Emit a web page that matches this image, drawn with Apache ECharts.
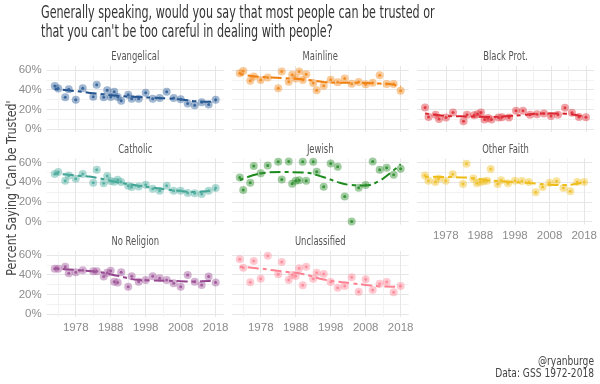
<!DOCTYPE html>
<html><head><meta charset="utf-8">
<script src="https://cdn.jsdelivr.net/npm/echarts@6/dist/echarts.min.js"></script>
<style>html,body{margin:0;padding:0;background:#fff}#c{width:600px;height:384px}</style>
</head><body><div id="c"></div>
<script>
const years = [1972,1973,1975,1976,1978,1980,1983,1984,1986,1987,1988,1989,1990,1991,1993,1994,1996,1998,2000,2002,2004,2006,2008,2010,2012,2014,2016,2018];
const panels = ['Evangelical','Mainline','Black Prot.','Catholic','Jewish','Other Faith','No Religion','Unclassified'];
const evangelical = [43.8,41.1,32.2,40.4,29.8,41.4,32.8,45.0,32.2,39.4,32.5,37.8,32.5,28.8,34.8,30.8,30.8,36.8,30.8,31.5,37.8,31.5,30.2,25.9,24.2,27.2,24.9,29.8];
const mainline = [56.7,59.0,49.0,53.4,49.7,52.4,41.4,58.3,48.0,55.0,51.4,58.3,49.7,55.7,46.7,39.4,44.0,50.0,47.4,51.4,46.0,47.7,45.4,47.0,54.7,45.7,45.7,38.8];
const blackProt = [21.9,12.3,14.6,10.3,11.6,16.9,8.0,14.6,13.9,14.9,16.9,9.6,11.3,9.6,11.6,11.9,11.6,18.6,18.6,14.6,14.9,15.9,13.3,14.6,21.5,16.6,12.3,11.9];
const catholic = [48.2,50.2,41.5,46.8,43.5,48.2,39.4,52.6,38.8,46.2,41.1,40.4,42.5,40.1,36.4,35.0,35.7,37.4,33.4,31.3,36.4,31.3,31.3,29.0,28.6,28.0,31.3,34.0];
const jewish = [44.8,32.0,39.4,56.3,48.9,57.0,60.7,42.8,61.0,38.4,41.5,41.8,60.7,41.5,60.7,50.6,35.4,59.0,55.6,25.3,0.0,34.4,37.0,61.0,52.6,54.6,47.5,53.6];
const otherFaith = [46.8,41.5,40.1,43.8,41.5,47.9,38.1,58.6,43.8,38.8,40.1,40.8,41.5,53.3,38.1,41.8,38.8,41.5,41.1,40.1,29.7,35.0,39.4,40.8,34.0,30.7,40.1,40.1];
const noReligion = [46.1,46.1,48.1,41.4,42.4,44.4,43.4,43.4,38.0,42.0,44.0,32.9,31.9,42.4,27.8,38.3,32.9,34.6,38.3,36.3,34.6,31.2,27.8,39.7,32.9,29.5,38.0,31.9];
const unclassified = [55.6,47.1,32.2,53.9,35.9,59.3,40.3,52.9,34.6,39.7,38.6,46.4,29.2,48.1,35.9,42.0,40.7,32.5,26.8,28.5,37.3,22.7,35.3,24.4,30.8,32.5,22.0,28.5];
// trend (smoothed) values
const trendYears = [1972,1978,1984,1990,1996,2000,2004,2008,2012,2016,2018];
const evangelicalTrend = [40.5,38.5,36.0,33.8,32.5,31.8,31.2,30.0,28.3,27.6,28.8];
const mainlineTrend = [55.5,53.0,51.7,50.5,47.8,47.0,47.0,46.8,46.2,45.0,43.0];
const blackProtTrend = [15.9,13.4,12.8,12.2,13.2,14.3,15.6,15.9,15.6,13.6,12.0];
const catholicTrend = [48.9,46.8,44.5,39.8,36.4,34.4,32.5,31.0,30.0,31.0,32.7];
const jewishTrend = [42.0,48.9,50.2,49.9,45.0,40.0,37.0,36.6,41.5,52.0,58.3];
const otherFaithTrend = [45.5,45.2,44.6,42.0,40.4,39.6,38.6,37.4,37.0,38.4,40.1];
const noReligionTrend = [46.4,44.7,43.0,38.8,34.6,34.2,33.8,33.4,32.9,33.6,32.5];
const unclassifiedTrend = [48.1,46.1,43.4,40.7,35.0,32.9,31.3,29.6,28.2,27.8,28.5];
const xGridValues = [1973,1978,1983,1988,1993,1998,2003,2008,2013,2018];
const xTickLabels = [1978,1988,1998,2008,2018];
const yGridValues = [0,10,20,30,40,50,60];
const yTickLabels = [0,20,40,60];

const values = [evangelical,mainline,blackProt,catholic,jewish,otherFaith,noReligion,unclassified];
const trends = [evangelicalTrend,mainlineTrend,blackProtTrend,catholicTrend,jewishTrend,otherFaithTrend,noReligionTrend,unclassifiedTrend];
const pointColors = ['#2f5f99','#f28a1e','#e0303a','#4fae9f','#2e8f2e','#f0c02a','#a0559a','#ff8a9a'];
const lineColors = ['#1f4f8c','#f07d0a','#d8202a','#3a9f90','#1d8a1d','#eebb10','#93448d','#ff8090'];

const FONT = "'DejaVu Sans Condensed','DejaVu Sans',sans-serif";
const AXFONT = "'Liberation Sans',sans-serif";
const colLeft = [46.7, 231.7, 417];
const rowTop = [66, 158.5, 251];
const W = 177, H = 66;

const grid = [], xAxis = [], yAxis = [], series = [], graphic = [];
panels.forEach((name, i) => {
  const r = Math.floor(i / 3), c = i % 3;
  grid.push({left: colLeft[c], top: rowTop[r], width: W, height: H, containLabel: false});
  const showX = (r === 2) || (i === 5);
  xAxis.push({
    type: 'value', gridIndex: i, min: 1969.7, max: 2020.3,
    axisLine: {show: false}, axisTick: {show: false, customValues: xGridValues},
    axisLabel: {show: showX, customValues: xTickLabels, color: '#8c8c8c', fontSize: 11.5, fontFamily: AXFONT, margin: 5, formatter: v => String(v)},
    splitLine: {show: true, lineStyle: {color: ['#f2f2f2', '#e6e6e6'], width: 1}}
  });
  yAxis.push({
    type: 'value', gridIndex: i, min: -3, max: 64,
    axisLine: {show: false}, axisTick: {show: false, customValues: yGridValues},
    axisLabel: {show: c === 0, customValues: yTickLabels, color: '#8c8c8c', fontSize: 11.5, fontFamily: AXFONT, margin: 5, formatter: v => v + '%'},
    splitLine: {show: true, lineStyle: {color: ['#e6e6e6', '#f2f2f2'], width: 1}}
  });
  const pts = years.map((y, k) => [y, values[i][k]]);
  series.push({
    type: 'line', xAxisIndex: i, yAxisIndex: i, smooth: 0.4, showSymbol: false, silent: true,
    data: trendYears.map((y, k) => [y, trends[i][k]]),
    lineStyle: {color: lineColors[i], width: 2, type: [4, 4, 11, 4]}, z: 3
  });
  series.push({
    type: 'scatter', xAxisIndex: i, yAxisIndex: i, symbolSize: 8, silent: true,
    data: pts, itemStyle: {color: pointColors[i], opacity: 0.45}, z: 4
  });
  series.push({
    type: 'scatter', xAxisIndex: i, yAxisIndex: i, symbolSize: 3, silent: true,
    data: pts, itemStyle: {color: pointColors[i], opacity: 0.9}, z: 5
  });
  graphic.push({type: 'text', x: colLeft[c] + W / 2, y: rowTop[r] - 9, scaleX: 0.72, scaleY: 1,
    style: {text: name, fill: '#555', fontSize: 13, fontFamily: FONT, align: 'center', verticalAlign: 'middle'}});
});

graphic.push({type: 'text', x: 41, y: 4, scaleX: 0.73, scaleY: 1, style: {text: 'Generally speaking, would you say that most people can be trusted or\nthat you can\'t be too careful in dealing with people?', fill: '#333', fontSize: 17, lineHeight: 19, fontFamily: FONT}});
graphic.push({type: 'text', x: 12, y: 188, rotation: Math.PI / 2, scaleX: 0.88, scaleY: 1, style: {text: "Percent Saying 'Can be Trusted'", fill: '#444', fontSize: 14, fontFamily: FONT, align: 'center', verticalAlign: 'middle'}});
graphic.push({type: 'text', x: 594, y: 356, scaleX: 0.88, scaleY: 1, style: {text: '@ryanburge\nData: GSS 1972-2018', fill: '#444', fontSize: 11.5, lineHeight: 12, fontFamily: FONT, align: 'right'}});

const chart = echarts.init(document.getElementById('c'), null, {renderer: 'canvas'});
chart.setOption({animation: false, backgroundColor: '#fff', grid, xAxis, yAxis, series, graphic});
</script></body></html>
